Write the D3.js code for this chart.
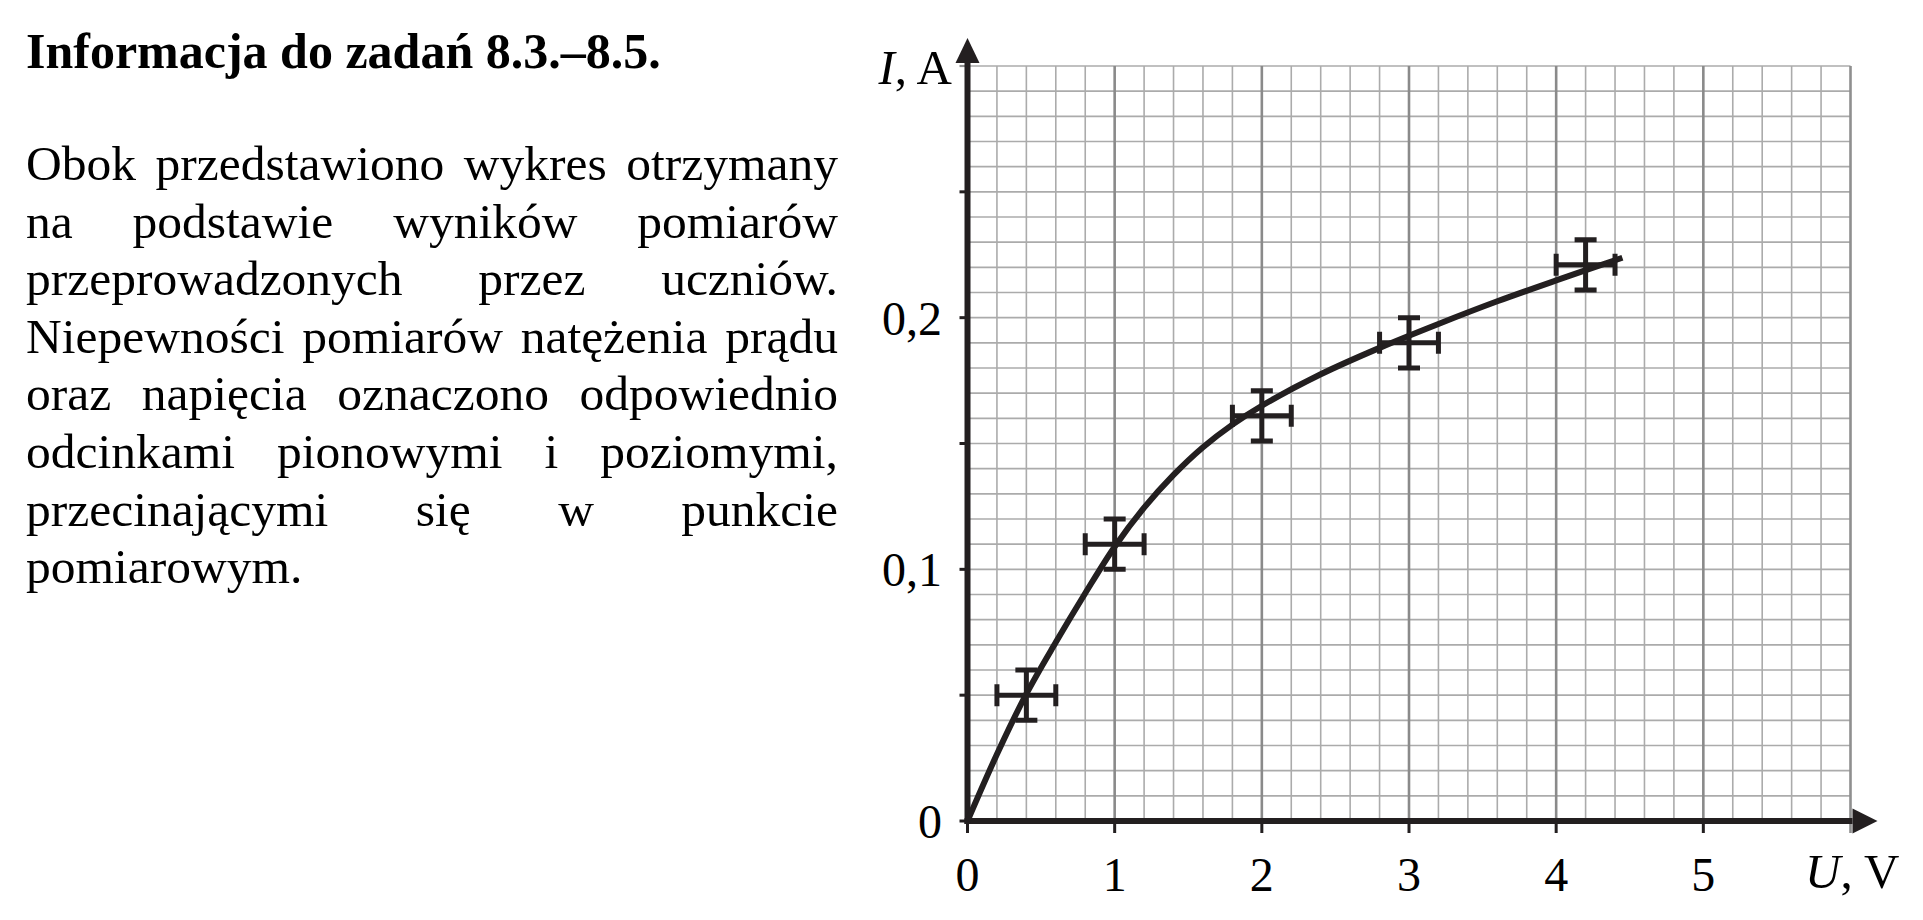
<!DOCTYPE html>
<html>
<head>
<meta charset="utf-8">
<script src="https://cdnjs.cloudflare.com/ajax/libs/d3/7.8.5/d3.min.js"></script>
<style>
	body { margin: 0; background: #fff; }
	text { font-family: "Liberation Serif", "Times New Roman", serif; fill: #000; }
</style>
</head>
<body>
<script>

// DATA

var title = "Informacja do zadań 8.3.–8.5.";

var bodyLines = [
	"Obok przedstawiono wykres otrzymany",
	"na podstawie wyników pomiarów",
	"przeprowadzonych przez uczniów.",
	"Niepewności pomiarów natężenia prądu",
	"oraz napięcia oznaczono odpowiednio",
	"odcinkami pionowymi i poziomymi,",
	"przecinającymi się w punkcie",
	"pomiarowym."
];

// measured points (U in V, I in A) and their uncertainties
var pointU = [0.4, 1, 2, 3, 4.2];
var pointI = [0.05, 0.11, 0.161, 0.19, 0.221];
var deltaU = [0.2, 0.2, 0.2, 0.2, 0.2];
var deltaI = [0.01, 0.01, 0.01, 0.01, 0.01];

// fitted curve
var curveU = [0, 0.2, 0.4, 0.6, 0.8, 1.0, 1.2, 1.4, 1.6, 1.8, 2.0, 2.4, 2.8, 3.2, 3.6, 4.0, 4.45];
var curveI = [0, 0.0265, 0.0505, 0.071, 0.0905, 0.109, 0.1245, 0.1375, 0.1485, 0.1575, 0.165, 0.1775, 0.188, 0.1975, 0.2065, 0.2148, 0.2238];

var xTickValues = [0, 1, 2, 3, 4, 5];
var xTickLabels = ["0", "1", "2", "3", "4", "5"];
var yTickValues = [0, 0.1, 0.2];
var yTickLabels = ["0", "0,1", "0,2"];
var ySmallTicks = [0, 0.05, 0.1, 0.15, 0.2, 0.25];

function drawD3(){

	var w = 1923;
	var h = 920;

	var dark = "#231f20";
	var text_left = 26;
	var text_right = 838;

	var svg = d3.select("body")
		.append("svg")
		.attr("width", w)
		.attr("height", h);

	var x = d3.scaleLinear().domain([0, 6]).range([967.5, 1850.5]);
	var y = d3.scaleLinear().domain([0, 0.3]).range([821, 66]);

	// TITLE

	svg.append("text")
		.attr("x", text_left)
		.attr("y", 68)
		.attr("font-size", "50px")
		.attr("font-weight", "bold")
		.text(title);

	// BODY TEXT (justified, last line left)

	bodyLines.forEach(function(line, i){
		var baseline = 180 + i * 57.6;
		if (i == bodyLines.length - 1){
			svg.append("text")
				.attr("x", text_left)
				.attr("y", baseline)
				.attr("font-size", "49.5px")
				.text(line);
			return;
		}
		var words = line.split(" ");
		var nodes = words.map(function(word){
			return svg.append("text")
				.attr("y", baseline)
				.attr("font-size", "49.5px")
				.text(word);
		});
		var widths = nodes.map(function(n){ return n.node().getComputedTextLength(); });
		var gap = (text_right - text_left - d3.sum(widths)) / (words.length - 1);
		var pos = text_left;
		nodes.forEach(function(n, k){
			n.attr("x", pos);
			pos += widths[k] + gap;
		});
	});

	// GRID

	var grid = svg.append("g");

	grid.selectAll(".hline")
		.data(y.ticks(30).filter(function(d){ return d > 0; }))
		.enter()
		.append("line")
		.attr("class", "hline")
		.attr("x1", x(0))
		.attr("x2", x(6))
		.attr("y1", function(d){ return y(d); })
		.attr("y2", function(d){ return y(d); })
		.attr("stroke", "#ababab")
		.attr("stroke-width", 1.6);

	grid.selectAll(".vline")
		.data(x.ticks(30).filter(function(d){ return d > 0 && d < 6; }))
		.enter()
		.append("line")
		.attr("class", "vline")
		.attr("x1", function(d){ return x(d); })
		.attr("x2", function(d){ return x(d); })
		.attr("y1", y(0))
		.attr("y2", y(0.3))
		.attr("stroke", function(d){ return Math.abs(d - Math.round(d)) < 1e-6 ? "#8a8a8a" : "#ababab"; })
		.attr("stroke-width", function(d){ return Math.abs(d - Math.round(d)) < 1e-6 ? 2.6 : 1.6; });

	// right border, runs down past the axis like a tick
	grid.append("line")
		.attr("x1", x(6)).attr("x2", x(6))
		.attr("y1", y(0.3)).attr("y2", y(0) + 12)
		.attr("stroke", "#8f8f8f")
		.attr("stroke-width", 2.6);

	// top border tick
	grid.append("line")
		.attr("x1", x(0) - 8).attr("x2", x(0))
		.attr("y1", y(0.3)).attr("y2", y(0.3))
		.attr("stroke", "#8f8f8f")
		.attr("stroke-width", 2.2);

	// AXES

	svg.selectAll(".xtick")
		.data(xTickValues)
		.enter()
		.append("line")
		.attr("class", "xtick")
		.attr("x1", function(d){ return x(d); })
		.attr("x2", function(d){ return x(d); })
		.attr("y1", y(0))
		.attr("y2", y(0) + 12)
		.attr("stroke", dark)
		.attr("stroke-width", 3);

	svg.selectAll(".ytick")
		.data(ySmallTicks)
		.enter()
		.append("line")
		.attr("class", "ytick")
		.attr("x1", x(0) - 8)
		.attr("x2", x(0))
		.attr("y1", function(d){ return y(d); })
		.attr("y2", function(d){ return y(d); })
		.attr("stroke", dark)
		.attr("stroke-width", 3);

	svg.append("line")
		.attr("x1", x(0) - 3).attr("x2", x(6) + 2)
		.attr("y1", y(0)).attr("y2", y(0))
		.attr("stroke", dark)
		.attr("stroke-width", 6);

	svg.append("line")
		.attr("x1", x(0)).attr("x2", x(0))
		.attr("y1", y(0) + 3).attr("y2", y(0.3) - 3)
		.attr("stroke", dark)
		.attr("stroke-width", 6);

	// arrow heads
	var ax = x(6) + 2, ay = y(0);
	svg.append("path")
		.attr("d", "M" + ax + "," + (ay - 12.5) + "L" + (ax + 25) + "," + ay + "L" + ax + "," + (ay + 12.5) + "Z")
		.attr("fill", dark);

	var bx = x(0), by = y(0.3) - 3;
	svg.append("path")
		.attr("d", "M" + (bx - 12) + "," + by + "L" + bx + "," + (by - 25) + "L" + (bx + 12) + "," + by + "Z")
		.attr("fill", dark);

	// TICK LABELS

	svg.selectAll(".xlab")
		.data(xTickValues)
		.enter()
		.append("text")
		.attr("class", "xlab")
		.attr("x", function(d){ return x(d); })
		.attr("y", 891)
		.attr("text-anchor", "middle")
		.attr("font-size", "48px")
		.text(function(d, i){ return xTickLabels[i]; });

	svg.selectAll(".ylab")
		.data(yTickValues)
		.enter()
		.append("text")
		.attr("class", "ylab")
		.attr("x", 942)
		.attr("y", function(d){ return y(d) + 17; })
		.attr("text-anchor", "end")
		.attr("font-size", "48px")
		.text(function(d, i){ return yTickLabels[i]; });

	// AXIS TITLES

	var ylab = svg.append("text")
		.attr("x", 952)
		.attr("y", 84)
		.attr("text-anchor", "end")
		.attr("font-size", "49px");
	ylab.append("tspan").attr("font-style", "italic").text("I");
	ylab.append("tspan").text(", A");

	var xlab = svg.append("text")
		.attr("x", 1805)
		.attr("y", 888)
		.attr("font-size", "49px");
	xlab.append("tspan").attr("font-style", "italic").text("U");
	xlab.append("tspan").text(", V");

	// CURVE

	var line = d3.line()
		.x(function(d){ return x(d[0]); })
		.y(function(d){ return y(d[1]); })
		.curve(d3.curveCatmullRom.alpha(0.5));

	svg.append("path")
		.datum(d3.zip(curveU, curveI))
		.attr("d", line)
		.attr("fill", "none")
		.attr("stroke", dark)
		.attr("stroke-width", 6);

	// ERROR BARS

	var points = pointU.map(function(u, i){
		return { u: u, i: pointI[i], du: deltaU[i], di: deltaI[i] };
	});

	var cap = 11;
	var bars = svg.selectAll(".bar")
		.data(points)
		.enter()
		.append("g")
		.attr("class", "bar")
		.attr("stroke", dark)
		.attr("stroke-width", 5)
		.attr("fill", "none");

	bars.append("path")
		.attr("d", function(d){
			var cx = x(d.u), cy = y(d.i);
			var x0 = x(d.u - d.du), x1 = x(d.u + d.du);
			var y0 = y(d.i - d.di), y1 = y(d.i + d.di);
			return "M" + x0 + "," + cy + "H" + x1 +
				"M" + x0 + "," + (cy - cap) + "V" + (cy + cap) +
				"M" + x1 + "," + (cy - cap) + "V" + (cy + cap) +
				"M" + cx + "," + y0 + "V" + y1 +
				"M" + (cx - cap) + "," + y0 + "H" + (cx + cap) +
				"M" + (cx - cap) + "," + y1 + "H" + (cx + cap);
		});

}

drawD3();

</script>
</body>
</html>
